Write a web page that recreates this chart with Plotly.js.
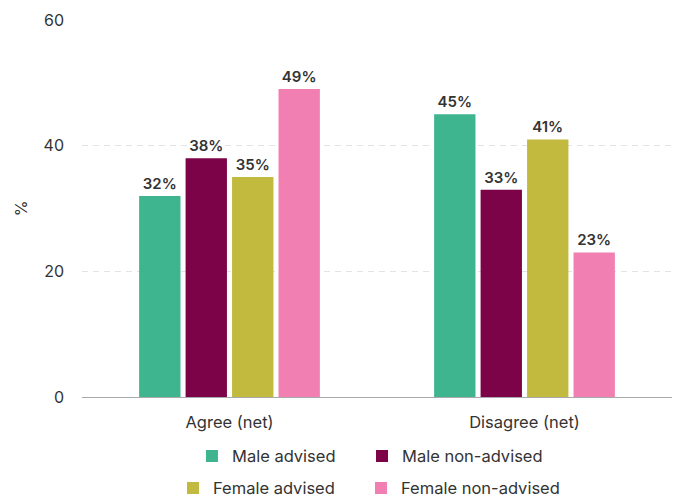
<!DOCTYPE html>
<html><head><meta charset="utf-8">
<script src="https://cdn.plot.ly/plotly-3.0.1.min.js"></script>
<style>html,body{margin:0;padding:0;background:#fff}#chart{width:680px;height:498px}</style>
</head><body><div id="chart"></div>
<script>
const categories = ["Agree (net)", "Disagree (net)"];
const seriesNames = ["Male advised", "Male non-advised", "Female advised", "Female non-advised"];
const maleAdvised = [32, 45];
const maleNonAdvised = [38, 33];
const femaleAdvised = [35, 41];
const femaleNonAdvised = [49, 23];
const colors = ["#3FB58F", "#7D0348", "#C2B93F", "#F17FB2"];
const legendIds = ["legend", "legend2", "legend3", "legend4"];
const allValues = [maleAdvised, maleNonAdvised, femaleAdvised, femaleNonAdvised];

const traces = allValues.map((vals, i) => ({
  type: "bar",
  name: seriesNames[i],
  x: categories,
  y: vals,
  legend: legendIds[i],
  marker: {color: colors[i]},
  text: vals.map(v => v + "%"),
  textposition: "outside",
  cliponaxis: false,
  textfont: {family: "Inter, sans-serif", size: 15, color: "#333", weight: 600},
  hoverinfo: "none"
}));

const legendBase = {orientation: "h", xanchor: "left", yanchor: "middle",
                    font: {size: 16.5, color: "#333"}, bgcolor: "rgba(0,0,0,0)"};
const layout = {
  width: 680, height: 498,
  margin: {l: 82, r: 8, t: 20, b: 101, autoexpand: false},
  paper_bgcolor: "#fff", plot_bgcolor: "#fff",
  font: {family: "Inter, sans-serif", size: 15, color: "#333"},
  barmode: "group",
  bargap: 0.37,
  bargroupgap: 0.11,
  showlegend: true,
  legend: Object.assign({}, legendBase, {x: 0.1864, y: -0.157}),
  legend2: Object.assign({}, legendBase, {x: 0.4746, y: -0.157}),
  legend3: Object.assign({}, legendBase, {x: 0.1542, y: -0.242}),
  legend4: Object.assign({}, legendBase, {x: 0.4729, y: -0.242}),
  xaxis: {type: "category", tickfont: {size: 16.5, color: "#333"}, showline: false, ticks: "",
          ticklabelstandoff: 13, automargin: false},
  yaxis: {range: [0, 60], dtick: 20, tickfont: {size: 16, color: "#333"}, automargin: false,
          showgrid: true, gridcolor: "#e3e3e3", griddash: "6px,5px", gridwidth: 1,
          zeroline: true, zerolinecolor: "#aaaaaa", zerolinewidth: 1,
          ticks: "", ticklabelstandoff: 17,
          title: {text: "%", font: {size: 16, color: "#333"}, standoff: 11}}
};
Plotly.newPlot("chart", traces, layout, {displayModeBar: false, staticPlot: true});
</script></body></html>
